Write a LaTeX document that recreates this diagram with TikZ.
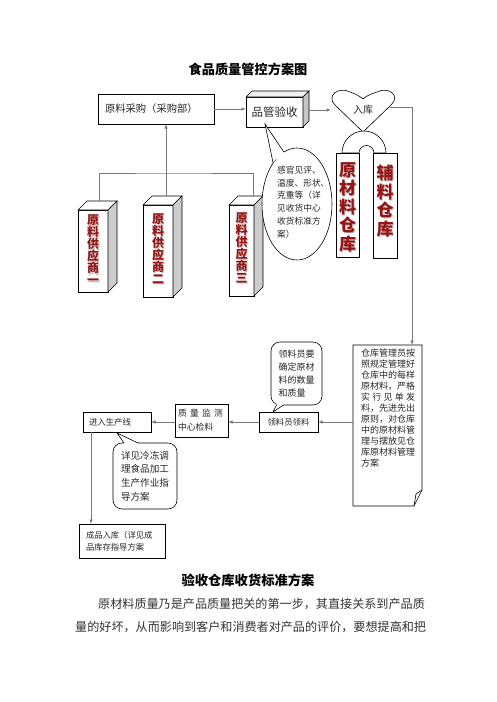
\documentclass[tikz,border=0pt]{standalone}
\usepackage{fontspec}
\setmainfont{Noto Sans CJK SC}
\usetikzlibrary{arrows.meta,shapes.geometric}
\definecolor{pred}{RGB}{150,20,20}
\definecolor{lngray}{RGB}{120,120,120}
\begin{document}
\begin{tikzpicture}[x=1pt,y=-1pt,
  ln/.style={draw=lngray, line width=0.8pt},
  arr/.style={ln, -{Latex[length=4.5pt,width=3.5pt]}},
  box/.style={draw=black, line width=0.6pt, fill=white, outer sep=0pt, inner sep=0pt},
  txt/.style={text=black!85, inner sep=0pt, align=left},
  ptxt/.style={font=\fontsize{12}{12}\selectfont\bfseries, text=pred, align=center, inner sep=0pt},
  wtxt/.style={font=\fontsize{17}{18.5}\selectfont\bfseries, text=pred, align=center, inner sep=0pt},
  shd/.style={text=gray!50}]
\path[use as bounding box, fill=white] (0,0) rectangle (496,702);

% title
\node[inner sep=0pt, font=\fontsize{13.2}{14}\selectfont\bfseries] (title) at (248,69) {食品质量管控方案图};

% purchase box
\node[box, anchor=north west, minimum width=116, minimum height=30, text width=102, align=left,
      font=\fontsize{10.3}{12}\selectfont, text=black!85] (cg) at (98,94) {原料采购（采购部）};

% quality check 3D box
\node[box, anchor=north west, minimum width=57, minimum height=30,
      font=\fontsize{11.5}{12}\selectfont, text=black!85] (qc) at (246,97) {品管验收};
\draw[box, fill=gray!12] (qc.north west) -- ++(6,-6) -- ++(57,0) -- (qc.north east) -- cycle;
\draw[box, fill=gray!45] (qc.north east) -- ++(6,-6) -- ++(0,30) -- (qc.south east) -- cycle;

% heart
\draw[box] (363,132) -- (335,105) .. controls (326,96) and (338,86) .. (350,92)
  .. controls (356,94) and (361,97) .. (363,99) .. controls (365,97) and (370,94) .. (377,92)
  .. controls (389,86) and (401,96) .. (391,105) -- cycle;
\node[txt, font=\fontsize{10}{12}\selectfont] (rk) at (363,110) {入库};

% arch and warehouses
\draw[box] (342,153) arc[start angle=180, end angle=360, radius=22] -- (374,153)
  arc[start angle=0, end angle=-180, radius=7.5] -- cycle;
\node[box, anchor=north west, minimum width=23, minimum height=104] (w1) at (336,153) {};
\node[box, anchor=north west, minimum width=24, minimum height=105] (w2) at (373,153) {};
\node[wtxt, shd] (w1s) at (348.7,208.2) {原\\材\\料\\仓\\库};
\node[wtxt] (w1t) at (347.5,207) {原\\材\\料\\仓\\库};
\node[wtxt, shd] (w2s) at (386.2,202.2) {辅\\料\\仓\\库};
\node[wtxt] (w2t) at (385,201) {辅\\料\\仓\\库};

% pillars
\node[box, anchor=north west, minimum width=30, minimum height=82] (p1) at (78,210) {};
\draw[box] (p1.north west) -- ++(9,-9) -- ++(30,0) -- (p1.north east) -- cycle;
\draw[box, fill=gray!40] (p1.north east) -- ++(9,-9) -- ++(0,82) -- (p1.south east) -- cycle;
\node[box, anchor=north west, minimum width=30, minimum height=92] (p2) at (143,205) {};
\draw[box] (p2.north west) -- ++(9,-9) -- ++(30,0) -- (p2.north east) -- cycle;
\draw[box, fill=gray!40] (p2.north east) -- ++(9,-9) -- ++(0,92) -- (p2.south east) -- cycle;
\node[box, anchor=north west, minimum width=25, minimum height=91] (p3) at (229,205) {};
\draw[box] (p3.north west) -- ++(9,-9) -- ++(25,0) -- (p3.north east) -- cycle;
\draw[box, fill=gray!40] (p3.north east) -- ++(9,-9) -- ++(0,91) -- (p3.south east) -- cycle;
\node[ptxt, shd] (p1s) at (94.2,251.2) {原\\料\\供\\应\\商\\一};
\node[ptxt] (p1t) at (93,250) {原\\料\\供\\应\\商\\一};
\node[ptxt, shd] (p2s) at (159.2,250.2) {原\\料\\供\\应\\商\\二};
\node[ptxt] (p2t) at (158,249) {原\\料\\供\\应\\商\\二};
\node[ptxt, shd] (p3s) at (242.7,249.2) {原\\料\\供\\应\\商\\三};
\node[ptxt] (p3t) at (241.5,248) {原\\料\\供\\应\\商\\三};

% pillar connectors
\coordinate (t1) at (99,201);
\coordinate (t2) at (166,196);
\coordinate (t3) at (253,196);
\coordinate (hbar) at (170,173);
\draw[ln] (t1) |- (hbar) -| (t3);
\draw[arr] (t2) -- (t2 |- cg.south);

% top arrows
\draw[arr] (cg.east) -- (cg.east -| qc.west);
\coordinate (qcr) at (309,110);
\coordinate (hl) at (331,110);
\draw[arr] (qcr) -- (hl);

% ellipse callout
\node[draw=black, line width=0.6pt, fill=white, ellipse, minimum width=70, minimum height=112, inner sep=0pt] (ell) at (297,204) {};
\coordinate (etip) at (265,124);
\fill[white] (etip) -- (273.1,163) -- (275,160) -- (285,153) -- (283.9,152.1) -- cycle;
\draw[line width=0.6pt] (273.1,163) -- (etip) -- (283.9,152.1);
\node[txt, anchor=north west, font=\fontsize{8.7}{12.7}\selectfont] (etxt) at (277,166)
  {感官见评、\\温度、形状、\\克重等（详\\见收货中心\\收货标准方\\案）};

% memo with folded corner
\node[anchor=north west, minimum width=69, minimum height=161, inner sep=0pt, outer sep=0pt] (memo) at (353,345) {};
\draw[box] (memo.north west) -- (memo.north east) -- (422,490) -- (414,506) -- (memo.south west) -- cycle;
\draw[line width=0.6pt] (422,490) -- (416,494) -- (414,506);
\node[txt, anchor=north west, font=\fontsize{9}{11}\selectfont] (mtxt) at (361,349)
  {仓库管理员按\\照规定管理好\\仓库中的每样\\原材料，严格\\\makebox[54pt][s]{实\hfill 行\hfill 见\hfill 单\hfill 发}\\料，先进先出\\原则，对仓库\\中的原材料管\\理与摆放见仓\\库原材料管理\\方案};

% right line from heart to memo
\coordinate (hr) at (390,107);
\coordinate (turn) at (412,107);
\draw[ln] (hr) -- (turn);
\draw[arr] (turn) -- (turn |- memo.north);

% lower row
\node[box, anchor=north west, minimum width=59, minimum height=20,
      font=\fontsize{8.4}{10}\selectfont, text=black!85] (ll) at (259,412) {领料员领料};
\node[box, anchor=north west, minimum width=53, minimum height=33, text width=47, inner xsep=3pt, align=left,
      font=\fontsize{8.8}{14}\selectfont, text=black!85] (qm) at (175,404) {\makebox[45pt][s]{质\hfill 量\hfill 监\hfill 测}\\中心检料};
\node[box, anchor=north west, minimum width=62, minimum height=20, text width=56, inner xsep=6pt, align=left,
      font=\fontsize{8.4}{10}\selectfont, text=black!85] (sc) at (83,412) {进入生产线};
\node[box, anchor=north west, minimum width=79, minimum height=34, text width=72, inner xsep=7pt, align=left,
      font=\fontsize{8.3}{12}\selectfont, text=black!85] (fin) at (79,524) {成品入库（详见成\\品库存指导方案};

\draw[arr] (memo.west |- ll.east) -- (ll.east);
\draw[arr] (ll.west) -- (ll.west -| qm.east);
\draw[arr] (qm.west |- sc.east) -- (sc.east);
\coordinate (vx) at (91,0);
\draw[arr] (sc.south -| vx) -- (fin.north -| vx);

% rounded callouts
\node[box, rounded corners=9pt, anchor=north west, minimum width=51, minimum height=63, text width=36, align=left,
      font=\fontsize{9}{13}\selectfont, text=black!85] (lc) at (271,342) {领料员要\\确定原材\\料的数量\\和质量};
\coordinate (ltip) at (273,412);
\fill[white] (ltip) -- (276.5,405) -- (277,403) -- (283,403) -- (283.5,405) -- cycle;
\draw[line width=0.6pt] (276.5,405) -- (ltip) -- (283.5,405);

\node[box, rounded corners=9pt, anchor=north west, minimum width=64, minimum height=66, text width=48, align=left,
      font=\fontsize{9.6}{13.7}\selectfont, text=black!85] (dc) at (113,443) {详见冷冻调\\理食品加工\\生产作业指\\导方案};
\coordinate (dtip) at (117,433);
\fill[white] (dtip) -- (124,443) -- (125,445) -- (137,445) -- (138,443) -- cycle;
\draw[line width=0.6pt] (124,443) -- (dtip) -- (138,443);

% heading and paragraph
\node[inner sep=0pt, font=\fontsize{13.3}{14}\selectfont\bfseries] (h2) at (248,580) {验收仓库收货标准方案};
\node[inner sep=0pt, anchor=west, text=black!80, font=\fontsize{12.1}{14}\selectfont] (par1) at (98,604) {原材料质量乃是产品质量把关的第一步，其直接关系到产品质};
\node[inner sep=0pt, anchor=west, text=black!80, font=\fontsize{12.1}{14}\selectfont] (par2) at (75,627) {量的好坏，从而影响到客户和消费者对产品的评价，要想提高和把};
\end{tikzpicture}
\end{document}
